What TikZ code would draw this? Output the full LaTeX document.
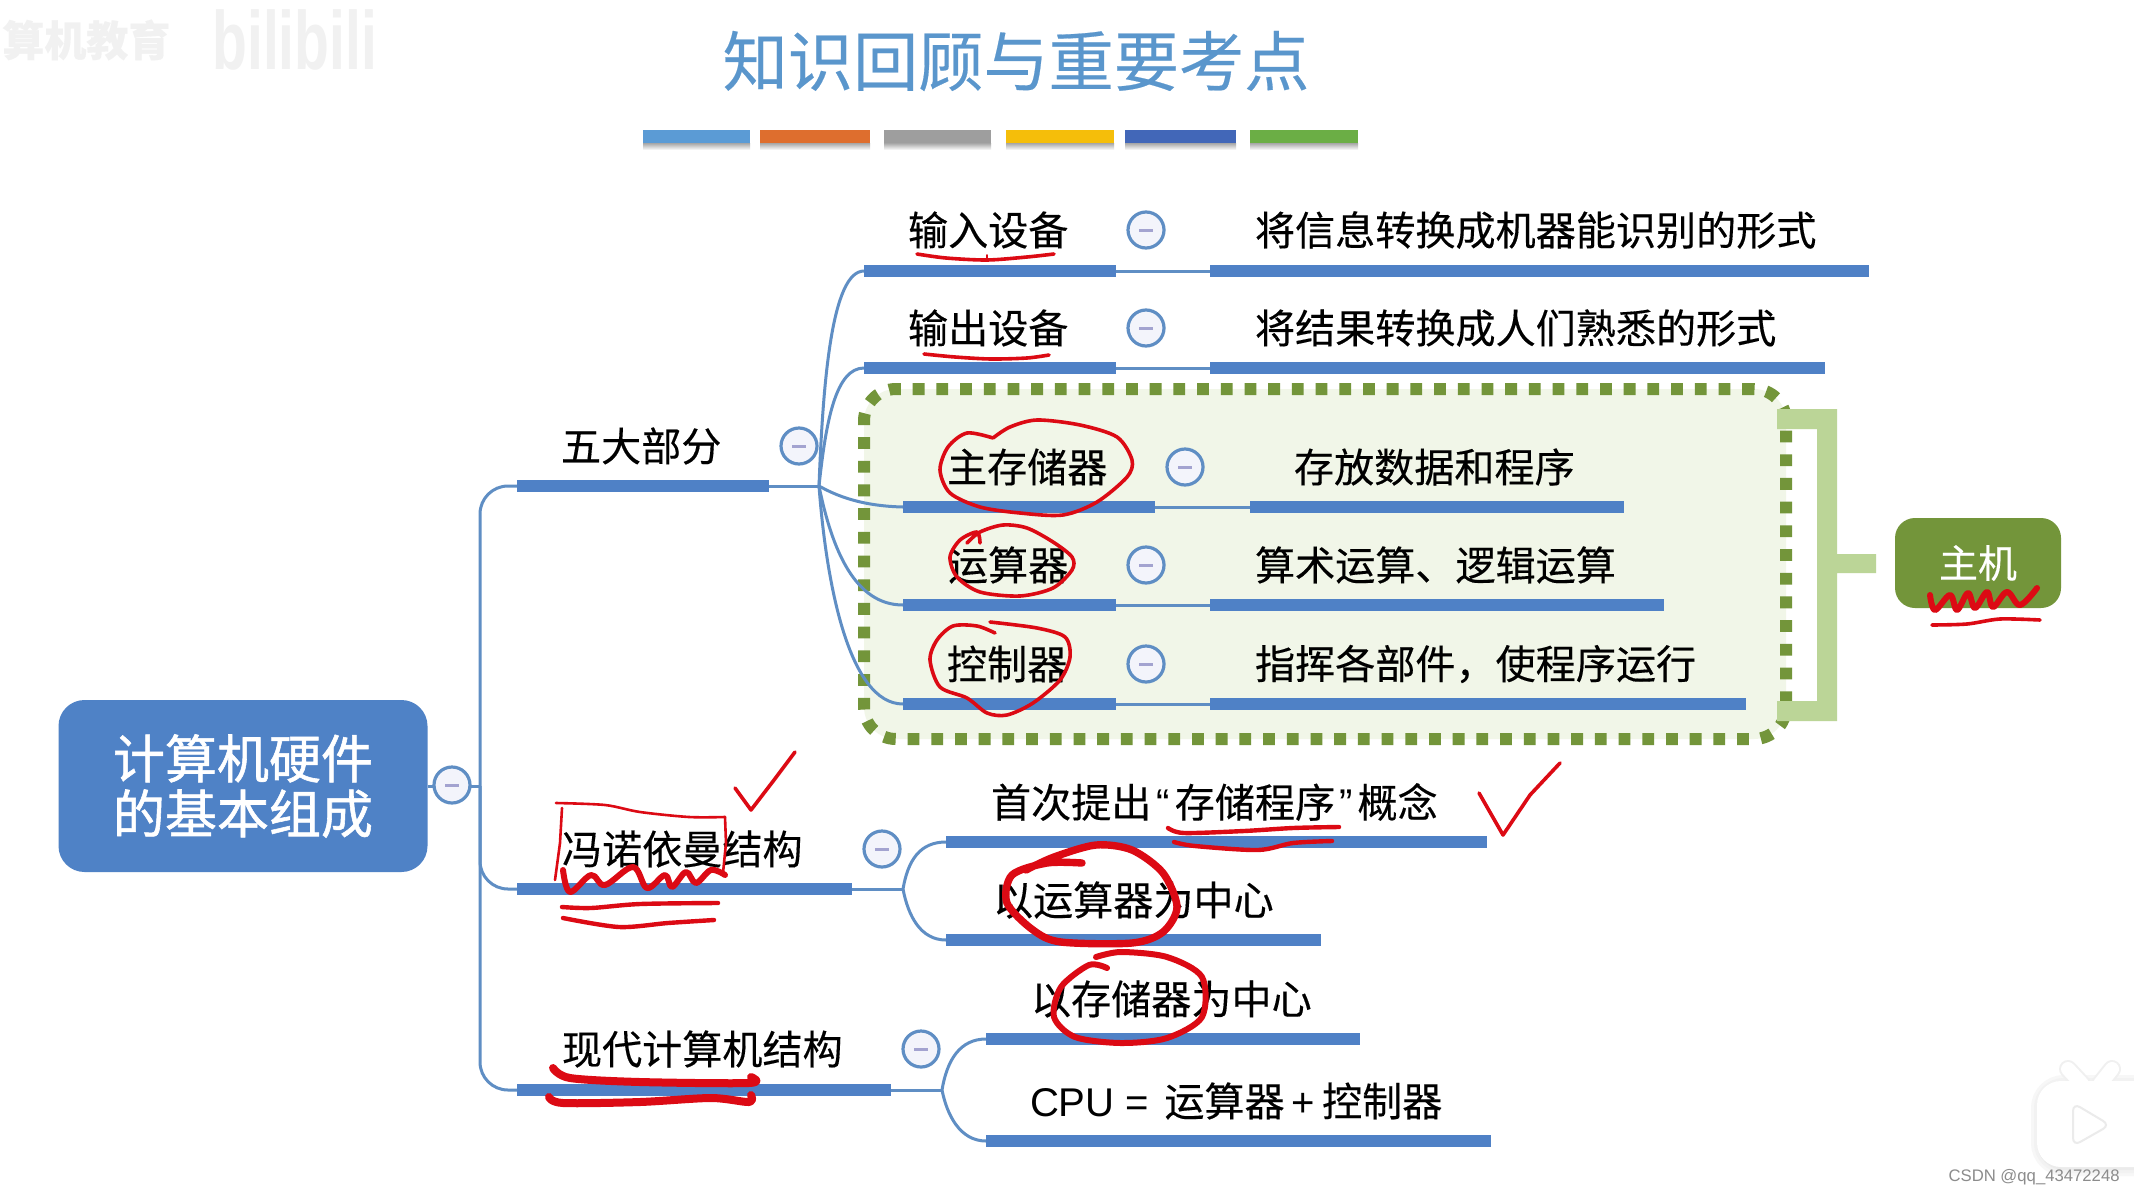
\documentclass[tikz,border=0pt]{standalone}
\usepackage{fontspec}
\setmainfont{Noto Sans CJK SC}[FakeBold=0.3]
\newfontfamily\rootfont{Noto Sans CJK SC}[FakeBold=1.1]
\newfontfamily\lat{Liberation Sans}
\definecolor{barblue}{HTML}{4F81C6}
\definecolor{linkblue}{HTML}{5F8EC4}
\definecolor{rootblue}{HTML}{4F82C6}
\definecolor{titleblue}{HTML}{5A96CC}
\definecolor{circfill}{HTML}{F3F4FB}
\definecolor{minusc}{HTML}{A3A3D0}
\definecolor{hostdark}{HTML}{73953A}
\definecolor{hostlight}{HTML}{BBD597}
\definecolor{hostfill}{HTML}{F1F6E8}
\definecolor{ink}{HTML}{DC0A14}
\definecolor{markgrey}{HTML}{F1F1F1}
\tikzset{
  barnode/.style={fill=barblue,draw=none,inner sep=0pt,outer sep=0pt,minimum height=6pt},
  lbl/.style={anchor=west,inner sep=0pt,outer sep=0pt,text=black,font=\fontsize{20.05}{24}\selectfont},
  togglec/.style={circle,draw=linkblue,line width=1.6pt,fill=circfill,minimum size=18pt,inner sep=0pt,outer sep=0pt},
  conn/.style={draw=linkblue,line width=1.5pt},
  pen/.style={draw=ink,line width=1.8pt,line cap=round,line join=round},
  penb/.style={draw=ink,line width=3pt,line cap=round,line join=round},
  penc/.style={draw=ink,line width=4pt,line cap=round,line join=round},
}
\newcommand{\barnode}[4]{\node[barnode,minimum width={(#3-#2)*0.5pt}] (#1) at ({(#2+#3)/2},#4) {};}
\newcommand{\togglenode}[3]{\node[togglec] (#1) at (#2,#3) {}; \fill[minusc] (#2-7,#3-1.5) rectangle (#2+7,#3+1.5);}
\begin{document}
\begin{tikzpicture}[x=0.5pt,y=-0.5pt]
\useasboundingbox (0,0) rectangle (2134,1194);
\clip (0,0) rectangle (2134,1194);
\fill[white] (0,0) rectangle (2134,1194);

% watermark
\node[anchor=west,inner sep=0pt,text=markgrey,font=\bfseries\fontsize{21}{24}\selectfont] (wmark) at (2,40) {算机教育};
\node[anchor=west,inner sep=0pt,text=markgrey] (wlogo) at (212,40) {\scalebox{1}[1.45]{\lat\bfseries\fontsize{28.5}{30}\selectfont bilibili}};

% title and colour strip
\node[inner sep=0pt,text=titleblue,font=\fontsize{32.6}{36}\selectfont] (title) at (1016,61) {知识回顾与重要考点};
\foreach \a/\b/\c in {643/750/5B9BD5,760/870/DE6E2E,884/991/9E9E9E,1006/1114/F5BE0A,1125/1236/4267B8,1250/1358/6BAE45}{
  \definecolor{stripc}{HTML}{\c}
  \shade[top color=black!35,bottom color=white] (\a,143) rectangle (\b,150);
  \fill[stripc] (\a,130) rectangle (\b,143);
}

% host group
\node[draw=hostdark,fill=hostfill,line width=6pt,dash pattern=on 5.9pt off 5.95pt,rounded corners=16pt,
      minimum width=461pt,minimum height=175pt,inner sep=0pt,outer sep=0pt] (hostgroup) at (1325,564) {};
\fill[hostlight] (1777,409) -- (1837,409) -- (1837,554) -- (1876,554) -- (1876,573) -- (1837,573) -- (1837,721)
  -- (1777,721) -- (1777,701) -- (1817,701) -- (1817,429) -- (1777,429) -- cycle;
\node[fill=hostdark,rounded corners=10pt,minimum width=83pt,minimum height=45pt,inner sep=0pt,outer sep=0pt,
      text=white,font=\fontsize{19.5}{22}\selectfont] (host) at (1978,563) {\raisebox{-1.5pt}{主机}};

% root
\node[fill=rootblue,rounded corners=13pt,minimum width=184.5pt,minimum height=86pt,inner sep=0pt,outer sep=0pt,
      align=center,text=white,font=\rootfont\fontsize{26}{27.5}\selectfont] (root) at (243,786) {计算机硬件\\的基本组成};

% bars
\barnode{wu}{517}{769}{486}
\barnode{fn}{517}{852}{889}
\barnode{xd}{517}{891}{1090}
\barnode{inl}{864}{1116}{271}
\barnode{inr}{1210}{1869}{271}
\barnode{outl}{864}{1116}{368}
\barnode{outr}{1210}{1825}{368}
\barnode{meml}{903}{1155}{507}
\barnode{memr}{1250}{1624}{507}
\barnode{alul}{903}{1116}{605}
\barnode{alur}{1210}{1664}{605}
\barnode{ctll}{903}{1116}{704}
\barnode{ctlr}{1210}{1746}{704}
\barnode{fna}{946}{1487}{842}
\barnode{fnb}{946}{1321}{940}
\barnode{xda}{986}{1360}{1039}
\barnode{xdb}{986}{1491}{1141}

% junctions
\coordinate (rj) at (480,786);
\coordinate (wj) at (819,486);
\coordinate (fj) at (903,889);
\coordinate (xj) at (942,1090);

% connectors
\draw[conn] (root.east) -- (rj);
\draw[conn,rounded corners=14pt] (wu.west) -| (rj);
\draw[conn,rounded corners=14pt] (xd.west) -| (rj);
\draw[conn,rounded corners=14pt] (fn.west) -| (rj);
\draw[conn] (wu.east) -- (wj);
\draw[conn] (fn.east) -- (fj);
\draw[conn] (xd.east) -- (xj);
\draw[conn] (wj) .. controls (823,380) and (832,271) .. (inl.west);
\draw[conn] (wj) .. controls (826,420) and (836,368) .. (outl.west);
\draw[conn] (wj) .. controls (835,495) and (860,506) .. (meml.west);
\draw[conn] (wj) .. controls (832,550) and (855,605) .. (alul.west);
\draw[conn] (wj) .. controls (826,580) and (848,704) .. (ctll.west);
\draw[conn] (fj) .. controls (908,860) and (920,842) .. (fna.west);
\draw[conn] (fj) .. controls (908,915) and (920,940) .. (fnb.west);
\draw[conn] (xj) .. controls (947,1060) and (960,1039) .. (xda.west);
\draw[conn] (xj) .. controls (947,1115) and (960,1141) .. (xdb.west);
\draw[conn] (inl.east) -- (inr.west);
\draw[conn] (outl.east) -- (outr.west);
\draw[conn] (meml.east) -- (memr.west);
\draw[conn] (alul.east) -- (alur.west);
\draw[conn] (ctll.east) -- (ctlr.west);

% toggles
\togglenode{trt}{452}{785}
\togglenode{twu}{799}{446}
\togglenode{tfn}{882}{849}
\togglenode{txd}{921}{1049}
\togglenode{tin}{1146}{230}
\togglenode{tout}{1146}{328}
\togglenode{tmem}{1185}{467}
\togglenode{talu}{1146}{565}
\togglenode{tctl}{1146}{664}

% labels
\node[lbl] (lin) at (908,230) {输入设备};
\node[lbl] (lout) at (908,328) {输出设备};
\node[lbl] (lmem) at (947,467) {主存储器};
\node[lbl] (lalu) at (948,565) {运算器};
\node[lbl] (lctl) at (947,664) {控制器};
\node[lbl] (lwu) at (561,446) {五大部分};
\node[lbl] (lfn) at (562,849) {冯诺依曼结构};
\node[lbl] (lxd) at (562,1049) {现代计算机结构};
\node[lbl] (dina) at (1255,230) {将信息转换成机器能识别的形式};
\node[lbl] (dout) at (1255,328) {将结果转换成人们熟悉的形式};
\node[lbl] (dmem) at (1294,467) {存放数据和程序};
\node[lbl] (dalu) at (1255,565) {算术运算、逻辑运算};
\node[lbl] (dctl) at (1255,664) {指挥各部件，使程序运行};
\node[lbl] (dfa) at (991,802) {首次提出{\lat\hspace{2.5pt}“\hspace{2.5pt}}存储程序{\lat\hspace{2pt}”\hspace{2.5pt}}概念};
\node[lbl] (dfb) at (993,900) {以运算器为中心};
\node[lbl] (dxa) at (1031,999) {以存储器为中心};
\node[lbl] (dxb) at (1030,1101) {{\lat CPU =\hspace{2pt} }运算器\hspace{3.5pt}{\lat +}\hspace{3.5pt}控制器};

% bilibili tv mark
\foreach \w/\g in {9/3,6/5,3/8}{
  \draw[draw=black!\g,line width=\w pt,rounded corners=12pt] (2040,1084) rectangle (2170,1167);
}
\draw[black!6,line width=9pt,line cap=round] (2068,1069) -- (2082,1084);
\draw[black!6,line width=9pt,line cap=round] (2112,1069) -- (2100,1084);
\fill[white,rounded corners=12pt] (2037,1081) rectangle (2170,1167);
\draw[white,line width=7pt,line cap=round] (2068,1069) -- (2082,1084);
\draw[white,line width=7pt,line cap=round] (2112,1069) -- (2100,1084);
\filldraw[draw=black!8,fill=white,line width=1pt,rounded corners=4pt] (2073,1103) -- (2110,1125) -- (2073,1146) -- cycle;
\node[anchor=east,inner sep=0pt,text=black!45,font=\lat\fontsize{8.35}{11}\selectfont] (csdn) at (2120,1177) {CSDN @qq\_43472248};

% red handwriting
\draw[pen] plot[smooth] coordinates {(917,254) (946,258) (987,260) (1027,257) (1054,254)};
\draw[pen,line width=1pt] (987,255) -- (987,260);
\draw[pen] plot[smooth] coordinates {(924,354) (955,357) (991,359) (1027,358) (1049,355)};
\draw[pen] plot[smooth] coordinates {(993,438) (967,433) (948,447) (940,470) (950,493) (980,507) (1020,513) (1063,515) (1097,502) (1127,477) (1132,460) (1117,437) (1080,425) (1037,420) (1010,427) (993,438)};
\draw[pen] plot[smooth] coordinates {(980,543) (977,532) (960,540) (950,557) (957,577) (980,592) (1020,596) (1053,588) (1072,570) (1072,557) (1053,542) (1027,528) (1003,525) (980,532) (967,543)};
\draw[pen] plot[smooth] coordinates {(995,633) (977,626) (953,626) (937,640) (930,660) (940,687) (967,698) (987,713) (1007,715) (1033,703) (1060,680) (1070,657) (1065,637) (1037,628) (990,622)};
\draw[pen,line width=1.3pt] plot[smooth] coordinates {(556,803) (605,805) (640,812) (689,817) (725,817)};
\draw[pen,line width=1.3pt] (725,817) -- (726,843) -- (723,873);
\draw[pen,line width=1.3pt] (562,808) -- (560,843) -- (555,880);
\draw[penb] plot[smooth,tension=0.6] coordinates {(563,870) (570,892) (591,875) (605,885) (633,867) (647,888) (665,875) (672,887) (686,872) (696,883) (711,870) (725,875)};
\draw[pen,line width=2.2pt] plot[smooth] coordinates {(562,907) (591,908) (640,904) (718,903)};
\draw[pen,line width=2.2pt] plot[smooth] coordinates {(563,918) (619,927) (668,923) (714,920)};
\draw[pen] (735,788) -- (751,810) -- (774,780) -- (795,752);
\draw[pen] (1479,793) -- (1503,835) -- (1530,795) -- (1560,763);
\draw[pen,line width=2.2pt] plot[smooth] coordinates {(1168,828) (1184,833) (1244,831) (1293,828) (1339,827)};
\draw[pen,line width=2.2pt] plot[smooth] coordinates {(1174,842) (1195,846) (1258,850) (1293,843) (1332,841)};
\draw[penb,line width=3.7pt] plot[smooth] coordinates {(1082,863) (1047,863) (1012,875) (1007,903) (1033,930) (1061,942) (1132,943) (1163,932) (1177,907) (1163,873) (1132,850) (1096,845) (1054,857) (1026,870)};
\draw[penb] plot[smooth] coordinates {(1107,968) (1089,965) (1061,987) (1054,1017) (1075,1037) (1121,1043) (1167,1038) (1202,1017) (1202,977) (1167,957) (1121,952) (1096,957)};
\draw[penc] plot[smooth] coordinates {(553,1068) (570,1078) (640,1082) (749,1083) (751,1077)};
\draw[penc] plot[smooth] coordinates {(549,1097) (563,1103) (640,1102) (711,1098) (749,1102) (751,1095)};
\draw[penb] plot[smooth,tension=0.6] coordinates {(1930,595) (1935,610) (1950,595) (1957,610) (1968,593) (1975,608) (1987,592) (1993,607) (2007,592) (2020,605) (2037,588)};
\draw[pen] plot[smooth] coordinates {(1932,625) (1967,624) (2000,619) (2040,620)};
\end{tikzpicture}
\end{document}
